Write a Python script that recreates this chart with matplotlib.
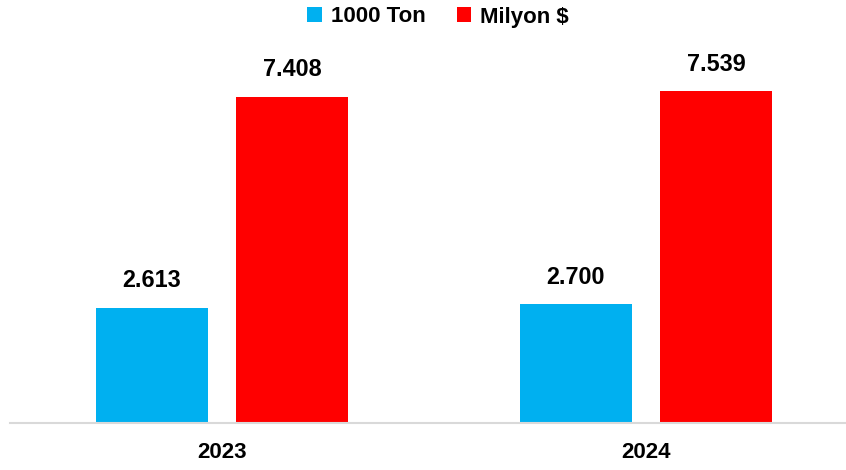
import numpy as np
import matplotlib.pyplot as plt

plt.rcParams['font.family'] = ['Liberation Sans', 'DejaVu Sans']

years = ['2023', '2024']
ton = [2.613, 2.700]
usd = [7.408, 7.539]
ton_labels = ['2.613', '2.700']
usd_labels = ['7.408', '7.539']

W, H = 846, 470
fig = plt.figure(figsize=(W / 100, H / 100), dpi=100)
# axes placed in pixel terms: baseline at y=423, left edge at x=10
ax = fig.add_axes([10 / W, (H - 423) / H, (W - 10) / W, 374 / H])

x = np.arange(len(years))
w = 0.264
off = 0.166
b1 = ax.bar(x - off, ton, w, color='#00B0F0', label='1000 Ton')
b2 = ax.bar(x + off, usd, w, color='#FF0000', label='Milyon $')

for bars, labs in ((b1, ton_labels), (b2, usd_labels)):
    for r, t in zip(bars, labs):
        ax.annotate(t, (r.get_x() + r.get_width() / 2, r.get_height()),
                    xytext=(0, 19.5), textcoords='offset points',
                    ha='center', va='center', fontsize=16.8, fontweight='bold')

ax.set_xlim(-0.5, (W - 10) / 424 - 0.5)
ax.set_ylim(0, 8.5)
ax.set_xticks(x)
ax.set_xticklabels(years, fontsize=16, fontweight='bold')
ax.tick_params(axis='x', length=0, pad=14)
ax.set_yticks([])
for s in ('top', 'right', 'left'):
    ax.spines[s].set_visible(False)
ax.spines['bottom'].set_color('#D9D9D9')
ax.spines['bottom'].set_linewidth(1.5)

fig.legend(loc='center', bbox_to_anchor=(438 / W, 1 - 17 / H), ncol=2, frameon=False,
           prop={'size': 16, 'weight': 'bold'}, handlelength=0.65, handleheight=0.65,
           handletextpad=0.4, columnspacing=1.4, borderaxespad=0)

fig.savefig('out.png', dpi=100)
